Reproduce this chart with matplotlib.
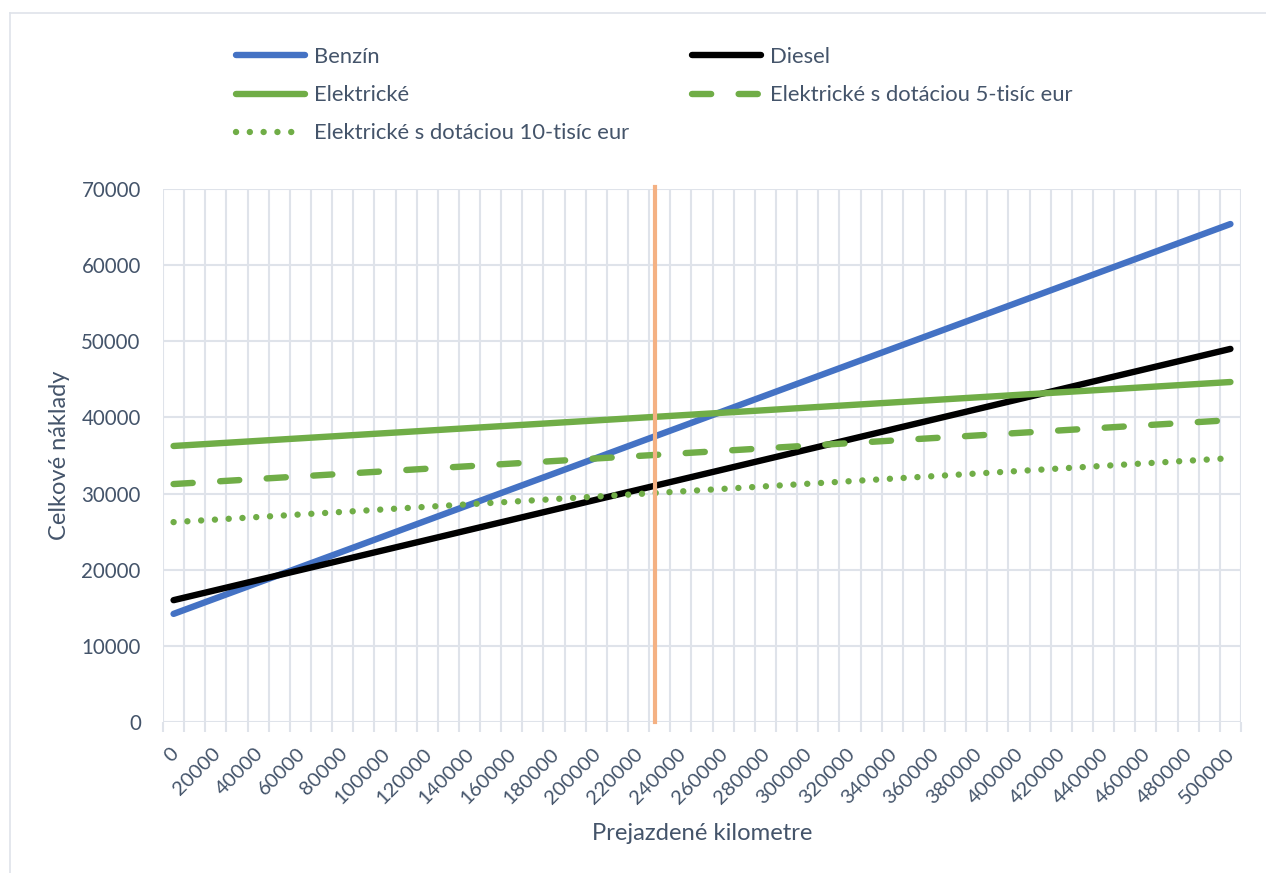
import matplotlib
matplotlib.use("Agg")
import matplotlib.pyplot as plt
from matplotlib.lines import Line2D

# Driven distance (km), one category every 10 000 km
km = [0, 10000, 20000, 30000, 40000, 50000, 60000, 70000, 80000, 90000,
      100000, 110000, 120000, 130000, 140000, 150000, 160000, 170000, 180000, 190000,
      200000, 210000, 220000, 230000, 240000, 250000, 260000, 270000, 280000, 290000,
      300000, 310000, 320000, 330000, 340000, 350000, 360000, 370000, 380000, 390000,
      400000, 410000, 420000, 430000, 440000, 450000, 460000, 470000, 480000, 490000,
      500000]

# Total cost of ownership (EUR)
benzin = [14200, 15224, 16248, 17272, 18296, 19320, 20344, 21368, 22392, 23416,
          24440, 25464, 26488, 27512, 28536, 29560, 30584, 31608, 32632, 33656,
          34680, 35704, 36728, 37752, 38776, 39800, 40824, 41848, 42872, 43896,
          44920, 45944, 46968, 47992, 49016, 50040, 51064, 52088, 53112, 54136,
          55160, 56184, 57208, 58232, 59256, 60280, 61304, 62328, 63352, 64376,
          65400]
diesel = [16000, 16660, 17320, 17980, 18640, 19300, 19960, 20620, 21280, 21940,
          22600, 23260, 23920, 24580, 25240, 25900, 26560, 27220, 27880, 28540,
          29200, 29860, 30520, 31180, 31840, 32500, 33160, 33820, 34480, 35140,
          35800, 36460, 37120, 37780, 38440, 39100, 39760, 40420, 41080, 41740,
          42400, 43060, 43720, 44380, 45040, 45700, 46360, 47020, 47680, 48340,
          49000]
elektricke = [36250, 36418, 36586, 36754, 36922, 37090, 37258, 37426, 37594, 37762,
              37930, 38098, 38266, 38434, 38602, 38770, 38938, 39106, 39274, 39442,
              39610, 39778, 39946, 40114, 40282, 40450, 40618, 40786, 40954, 41122,
              41290, 41458, 41626, 41794, 41962, 42130, 42298, 42466, 42634, 42802,
              42970, 43138, 43306, 43474, 43642, 43810, 43978, 44146, 44314, 44482,
              44650]
elektricke_5 = [31250, 31418, 31586, 31754, 31922, 32090, 32258, 32426, 32594, 32762,
                32930, 33098, 33266, 33434, 33602, 33770, 33938, 34106, 34274, 34442,
                34610, 34778, 34946, 35114, 35282, 35450, 35618, 35786, 35954, 36122,
                36290, 36458, 36626, 36794, 36962, 37130, 37298, 37466, 37634, 37802,
                37970, 38138, 38306, 38474, 38642, 38810, 38978, 39146, 39314, 39482,
                39650]
elektricke_10 = [26250, 26418, 26586, 26754, 26922, 27090, 27258, 27426, 27594, 27762,
                 27930, 28098, 28266, 28434, 28602, 28770, 28938, 29106, 29274, 29442,
                 29610, 29778, 29946, 30114, 30282, 30450, 30618, 30786, 30954, 31122,
                 31290, 31458, 31626, 31794, 31962, 32130, 32298, 32466, 32634, 32802,
                 32970, 33138, 33306, 33474, 33642, 33810, 33978, 34146, 34314, 34482,
                 34650]

# Marked distance (vertical reference line)
marker_km = 228000

x_tick_values = list(range(0, 500001, 20000))
x_tick_labels = [str(v) for v in x_tick_values]
y_ticks = [0, 10000, 20000, 30000, 40000, 50000, 60000, 70000]

labels = ["Benzín", "Diesel", "Elektrické",
          "Elektrické s dotáciou 5-tisíc eur",
          "Elektrické s dotáciou 10-tisíc eur"]

TEXT = "#44546a"
GRID = "#dfe3ea"
BLUE = "#4472c4"
GREEN = "#70ad47"
ORANGE = "#f4b183"

plt.rcParams["font.family"] = ["Lato", "DejaVu Sans"]

W, H = 1266, 873
fig = plt.figure(figsize=(W / 100, H / 100), dpi=100)

# Light frame around the chart area
fig.add_artist(Line2D([10 / W, 1.0], [1 - 13 / H, 1 - 13 / H], color=GRID, lw=1.2))
fig.add_artist(Line2D([10 / W, 10 / W], [1 - 13 / H, 0.0], color=GRID, lw=1.2))

left, right, top, bottom = 163, 1241, 189, 722
ax = fig.add_axes([left / W, 1 - bottom / H, (right - left) / W, (bottom - top) / H])

lw = 4.6
ax.plot(km, benzin, color=BLUE, lw=lw, solid_capstyle="round", label=labels[0], zorder=3)
ax.plot(km, diesel, color="black", lw=lw, solid_capstyle="round", label=labels[1], zorder=3)
ax.plot(km, elektricke, color=GREEN, lw=lw, solid_capstyle="round", label=labels[2], zorder=3)
l5, = ax.plot(km, elektricke_5, color=GREEN, lw=lw, dash_capstyle="round", label=labels[3], zorder=3)
l5.set_dashes((3.0, 4.3))
l10, = ax.plot(km, elektricke_10, color=GREEN, lw=lw, dash_capstyle="round", label=labels[4], zorder=3)
l10.set_dashes((0.01, 2.15))

ax.axvline(marker_km, ymin=0, ymax=1.004, color=ORANGE, lw=3.0, zorder=4, clip_on=False)

ax.set_xlim(-5000, 505000)
ax.set_ylim(0, 70000)

for s in ax.spines.values():
    s.set_visible(False)

# Category boundaries: gridlines with outside tick marks
ax.set_xticks([-5000 + 10000 * k for k in range(52)])
ax.set_xticklabels([])
ax.tick_params(axis="x", which="major", length=7, width=1.5, color=GRID, direction="out")

# Rotated category labels, every second category
for v, t in zip(x_tick_values, x_tick_labels):
    ax.annotate(t, xy=(v, 0), xycoords=("data", "axes fraction"),
                xytext=(-3, -16.5), textcoords="offset points",
                rotation=45, ha="right", va="top", rotation_mode="anchor",
                fontsize=14.5, color=TEXT, annotation_clip=False)

ax.set_yticks(y_ticks)
ax.set_yticklabels([str(v) for v in y_ticks], fontsize=14.8, color=TEXT)
ax.tick_params(axis="y", length=0, pad=16)

ax.grid(True, which="major", color=GRID, lw=1.5, zorder=0)
ax.set_axisbelow(True)

fig.text(702 / W, 1 - 833 / H, "Prejazdené kilometre", ha="center", va="center",
         fontsize=17.2, color=TEXT)
fig.text(59 / W, 1 - 455 / H, "Celkové náklady", ha="center", va="center",
         rotation=90, fontsize=17.0, color=TEXT)

handles = ax.get_lines()[:5]
legend_kw = dict(frameon=False, fontsize=15.8, handlelength=3.15, handletextpad=0.4,
                 labelspacing=0.83, borderpad=0, borderaxespad=0, loc="upper left",
                 labelcolor=TEXT)
leg1 = fig.legend([handles[0], handles[2], handles[4]], [labels[0], labels[2], labels[4]],
                  bbox_to_anchor=(236 / W, 1 - 47 / H), **legend_kw)
leg2 = fig.legend([handles[1], handles[3]], [labels[1], labels[3]],
                  bbox_to_anchor=(692 / W, 1 - 47 / H), **legend_kw)

fig.savefig("out.png", dpi=100, facecolor="white")
